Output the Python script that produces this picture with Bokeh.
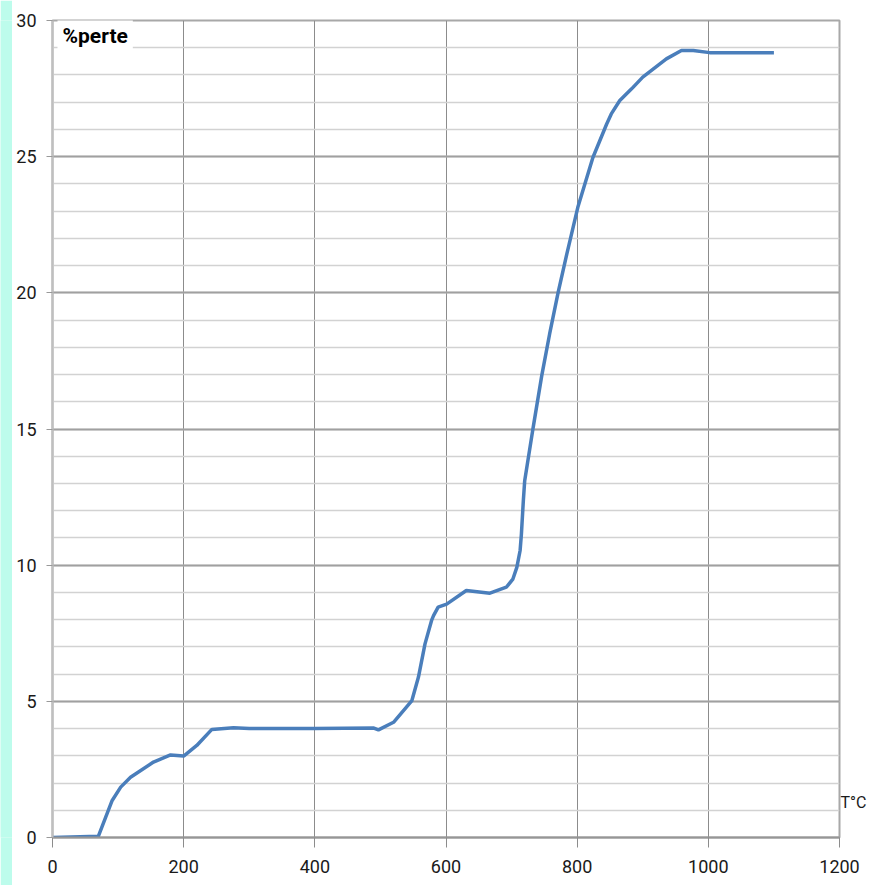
from bokeh.plotting import figure
from bokeh.layouts import row
from bokeh.models import (Range1d, SingleIntervalTicker, FixedTicker, Label, LinearAxis,
                          CustomJSTickFormatter)
from bokeh.embed import file_html
from bokeh.resources import INLINE

# Data
temperature = [0, 70, 81, 91, 104, 119, 154, 180, 200, 220, 243, 276, 300, 400, 490, 497,
               520, 548, 558, 568, 578, 581, 588, 601, 631, 667, 692, 702, 708, 713, 715, 718, 720,
               733, 746, 758, 771, 784, 801, 824, 845, 852, 865, 883, 900, 936, 959, 977,
               1002, 1050, 1100]
perte = [0, 0.05, 0.74, 1.36, 1.85, 2.21, 2.77, 3.03, 2.99, 3.38, 3.97, 4.03, 4.0, 4.0, 4.02, 3.95,
         4.23, 5.03, 5.89, 7.11, 7.97, 8.15, 8.46, 8.57, 9.07, 8.97, 9.19, 9.49, 9.92, 10.54, 11.15, 12.4, 13.1,
         15.07, 16.96, 18.49, 20.02, 21.4, 23.14, 24.97, 26.2, 26.57, 27.06, 27.49, 27.92, 28.59, 28.9, 28.9,
         28.82, 28.82, 28.82]
y_label = "%perte"
x_label = "T°C"
x_label_pos = [1.27]

FONT = "Roboto"

# thin light-cyan strip at the left edge
strip = figure(width=12, height=885, output_backend="svg", toolbar_location=None,
               min_border=0, x_range=Range1d(0, 1), y_range=Range1d(0, 1))
strip.border_fill_color = "#bdfcec"
strip.background_fill_color = "#bdfcec"
strip.outline_line_color = None
strip.axis.visible = False
strip.grid.visible = False

p = figure(width=857, height=885, output_backend="svg", toolbar_location=None,
           x_range=Range1d(0, 1200), y_range=Range1d(0, 30),
           min_border_left=40, min_border_right=29, min_border_top=20, min_border_bottom=48)
p.border_fill_color = "white"
p.background_fill_color = "white"
p.outline_line_color = "#a8a8a8"
p.outline_line_width = 2

xt = SingleIntervalTicker(interval=200, num_minor_ticks=0)
yt = SingleIntervalTicker(interval=5, num_minor_ticks=5)
p.xaxis.ticker = xt
p.xgrid.ticker = xt
p.yaxis.ticker = yt
p.ygrid.ticker = yt

p.xgrid.grid_line_color = "#8c8c8c"
p.xgrid.grid_line_width = 1
p.ygrid.grid_line_color = "#a0a0a0"
p.ygrid.grid_line_width = 2
p.ygrid.minor_grid_line_color = "#d2d2d2"
p.ygrid.minor_grid_line_width = 1.5

for ax in (p.xaxis[0], p.yaxis[0]):
    ax.minor_tick_line_color = None
    ax.major_tick_in = 0
    ax.major_label_text_font = FONT
    ax.major_label_text_font_size = "18px"
    ax.major_label_text_color = "#1a1a1a"

p.xaxis.axis_line_color = "#969696"
p.xaxis.axis_line_width = 2
p.xaxis.major_tick_line_color = "#8c8c8c"
p.xaxis.major_tick_out = 10
p.xaxis.major_label_standoff = 12

p.yaxis.axis_line_color = "#bfbfbf"
p.yaxis.axis_line_width = 2
p.yaxis.major_tick_line_color = "#999999"
p.yaxis.major_tick_out = 6
p.yaxis.major_label_standoff = 10

# x-axis unit label drawn at the right of the frame, near the bottom
right_ax = LinearAxis(ticker=FixedTicker(ticks=x_label_pos),
                      formatter=CustomJSTickFormatter(code=f"return '{x_label}'"),
                      axis_line_color=None, major_tick_line_color=None,
                      minor_tick_line_color=None, major_tick_in=0, major_tick_out=0,
                      major_label_standoff=1, major_label_text_font=FONT,
                      major_label_text_font_size="16px", major_label_text_color="#1a1a1a")
p.add_layout(right_ax, "right")

p.line(temperature, perte, line_color="#4a7ebb", line_width=3.5)

p.add_layout(Label(x=0, y=30, x_offset=5, y_offset=2, text=y_label,
                   text_align="left", text_baseline="top",
                   text_font=FONT, text_font_style="bold", text_font_size="21px",
                   text_color="black", background_fill_color="white", padding=5))

layout = row(strip, p, spacing=0)
open("out.html", "w").write(file_html(layout, INLINE))
